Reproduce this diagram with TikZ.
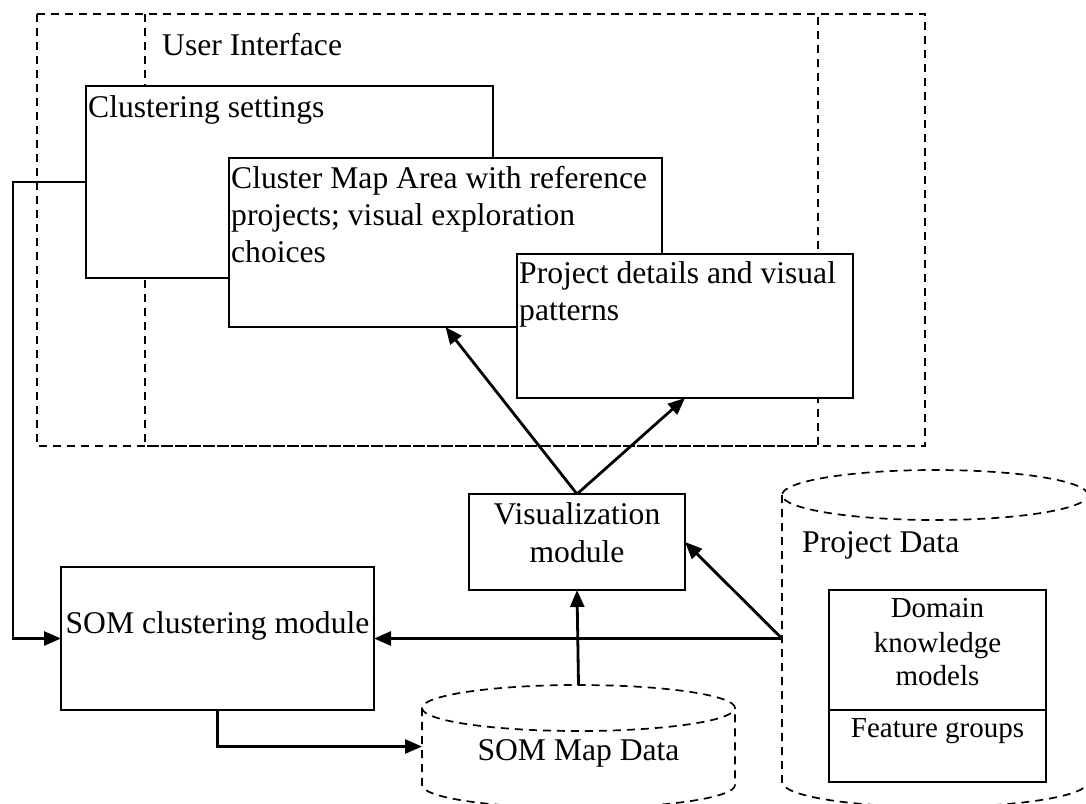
\documentclass[tikz,border=0pt]{standalone}
\usepackage{fontspec}
\setmainfont{Liberation Serif}
\usetikzlibrary{arrows.meta,calc}
\begin{document}
\begin{tikzpicture}[x=1pt,y=-1pt,
  box/.style={draw, line width=1.6pt, fill=white, inner sep=0pt, outer sep=0pt},
  hold/.style={inner sep=0pt, outer sep=0pt},
  frame/.style={draw, line width=1.7pt, dash pattern=on 8pt off 6pt},
  flow/.style={line width=2.8pt, -{Triangle[length=17pt,width=14pt]}},
  txt/.style={inner sep=0pt, font=\fontsize{31.6}{37}\selectfont},
  small/.style={inner sep=0pt, font=\fontsize{29}{34}\selectfont}]
\fill[white] (0,0) rectangle (1086,803);
\useasboundingbox (0,0) rectangle (1086,803);

% user interface frame
\draw[frame] (37,14) rectangle (925,446);
\draw[frame] (145,14) rectangle (818,446);
\node[txt, anchor=base west] (ui) at (162,55) {User Interface};

% panels of the interface
\node[box, minimum width=407pt, minimum height=192pt] (cs) at (289.5,182) {};
\node[txt, anchor=base west] (cs-t) at (88,117) {Clustering settings};

\node[box, minimum width=433pt, minimum height=169pt] (cm) at (445.5,242.5) {};
\node[txt, anchor=base west] (cm-t1) at (231,188) {Cluster Map Area with reference};
\node[txt, anchor=base west] (cm-t2) at (231,225) {projects; visual exploration};
\node[txt, anchor=base west] (cm-t3) at (231,262) {choices};

\node[box, minimum width=336pt, minimum height=144pt] (pdt) at (685,326) {};
\node[txt, anchor=base west] (pdt-t1) at (519,283) {Project details and visual};
\node[txt, anchor=base west] (pdt-t2) at (519,320) {patterns};

% modules
\node[box, minimum width=216pt, minimum height=96pt] (vis) at (577,542) {};
\node[txt, anchor=base] (vis-t1) at (577,524) {Visualization};
\node[txt, anchor=base] (vis-t2) at (577,562) {module};

\node[box, minimum width=313pt, minimum height=143pt] (som) at (217.5,638.5) {};
\node[txt, anchor=base] (som-t) at (217.5,633) {SOM clustering module};

% project data store
\node[hold, minimum width=306pt, minimum height=337pt] (pd) at (935,638.5) {};
\draw[frame] (935,495) ellipse [x radius=153pt, y radius=25pt];
\draw[frame] (782,495) -- (782,782) arc[start angle=180, end angle=360, x radius=153pt, y radius=25pt] -- (1088,495);
\node[txt, anchor=base west] (pd-t) at (802,552) {Project Data};

\node[box, minimum width=217pt, minimum height=120pt] (dk) at (937.5,650) {};
\node[small, anchor=base] (dk-t1) at (937.5,617) {Domain};
\node[small, anchor=base] (dk-t2) at (937.5,652) {knowledge};
\node[small, anchor=base] (dk-t3) at (937.5,685) {models};
\node[box, minimum width=217pt, minimum height=72pt] (fg) at (937.5,746) {};
\node[small, anchor=base] (fg-t) at (937.5,737) {Feature groups};

% SOM map data store
\node[hold, minimum width=313pt, minimum height=123pt] (smd) at (578.5,746.5) {};
\draw[frame] (578.5,708) ellipse [x radius=156.5pt, y radius=23pt];
\draw[frame] (422,708) -- (422,785) arc[start angle=180, end angle=360, x radius=156.5pt, y radius=23pt] -- (735,708);
\node[txt, anchor=base] (smd-t) at (578.5,760) {SOM Map Data};

% data flow
\draw[flow] (cs.west) -- ++(-73,0) |- (som.west);
\draw[flow] (som.south) |- (smd.west);
\draw[flow] (smd.north) -- (vis.south);
\draw[flow] (pd.west) -- (som.east);
\draw[flow] (pd.west) -- (vis.east);
\draw[flow] (vis.north) -- (cm.south);
\draw[flow] (vis.north) -- (pdt.south);
\end{tikzpicture}
\end{document}
